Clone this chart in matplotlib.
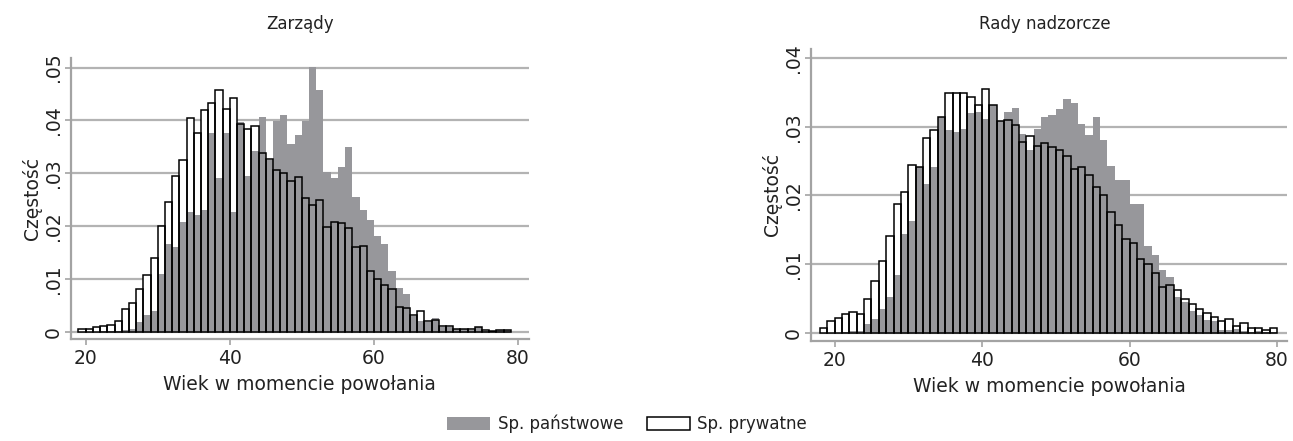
import matplotlib
matplotlib.use("Agg")
import matplotlib.pyplot as plt
from matplotlib.patches import Patch
import numpy as np

plt.rcParams['font.family'] = ['DejaVu Sans']

# ---- data: 1-year bins (left edges) ----
age_zarzady = np.arange(19, 79)
zarz_panstwowe = [
    0.0000, 0.0000, 0.0000, 0.0001, 0.0001, 0.0002, 0.0004, 0.0006, 0.0019, 0.0032,
    0.0040, 0.0109, 0.0166, 0.0160, 0.0208, 0.0226, 0.0222, 0.0230, 0.0377, 0.0291,
    0.0377, 0.0226, 0.0397, 0.0295, 0.0343, 0.0406, 0.0325, 0.0398, 0.0411, 0.0355,
    0.0372, 0.0398, 0.0501, 0.0458, 0.0302, 0.0291, 0.0312, 0.0350, 0.0256, 0.0230,
    0.0212, 0.0182, 0.0166, 0.0115, 0.0083, 0.0071, 0.0031, 0.0021, 0.0019, 0.0027,
    0.0010, 0.0010, 0.0005, 0.0005, 0.0004, 0.0009, 0.0002, 0.0001, 0.0003, 0.0003]
zarz_prywatne = [
    0.0006, 0.0006, 0.0009, 0.0011, 0.0013, 0.0020, 0.0044, 0.0054, 0.0081, 0.0107,
    0.0139, 0.0201, 0.0245, 0.0295, 0.0326, 0.0404, 0.0377, 0.0419, 0.0432, 0.0458,
    0.0422, 0.0442, 0.0393, 0.0384, 0.0389, 0.0339, 0.0328, 0.0307, 0.0300, 0.0285,
    0.0293, 0.0253, 0.0240, 0.0250, 0.0199, 0.0208, 0.0206, 0.0196, 0.0160, 0.0163,
    0.0115, 0.0100, 0.0089, 0.0081, 0.0047, 0.0045, 0.0033, 0.0039, 0.0020, 0.0023,
    0.0011, 0.0011, 0.0006, 0.0006, 0.0005, 0.0009, 0.0003, 0.0002, 0.0004, 0.0004]

age_rady = np.arange(18, 80)
rady_panstwowe = [
    0.0000, 0.0000, 0.0000, 0.0001, 0.0003, 0.0003, 0.0013, 0.0021, 0.0035, 0.0053,
    0.0084, 0.0144, 0.0163, 0.0241, 0.0217, 0.0242, 0.0314, 0.0295, 0.0293, 0.0296,
    0.0320, 0.0322, 0.0311, 0.0331, 0.0308, 0.0322, 0.0327, 0.0289, 0.0266, 0.0296,
    0.0314, 0.0317, 0.0326, 0.0341, 0.0334, 0.0304, 0.0288, 0.0314, 0.0281, 0.0243,
    0.0223, 0.0223, 0.0187, 0.0187, 0.0126, 0.0113, 0.0092, 0.0082, 0.0053, 0.0045,
    0.0032, 0.0026, 0.0019, 0.0017, 0.0005, 0.0005, 0.0006, 0.0003, 0.0002, 0.0003,
    0.0002, 0.0001]
rady_prywatne = [
    0.0007, 0.0018, 0.0022, 0.0027, 0.0031, 0.0028, 0.0050, 0.0076, 0.0105, 0.0141,
    0.0187, 0.0205, 0.0245, 0.0242, 0.0283, 0.0295, 0.0314, 0.0349, 0.0349, 0.0349,
    0.0343, 0.0332, 0.0355, 0.0332, 0.0309, 0.0310, 0.0302, 0.0278, 0.0286, 0.0272,
    0.0277, 0.0271, 0.0266, 0.0258, 0.0238, 0.0242, 0.0230, 0.0212, 0.0201, 0.0176,
    0.0157, 0.0137, 0.0131, 0.0107, 0.0101, 0.0088, 0.0067, 0.0070, 0.0062, 0.0050,
    0.0042, 0.0035, 0.0029, 0.0023, 0.0018, 0.0020, 0.0010, 0.0015, 0.0008, 0.0008,
    0.0004, 0.0007]

titles = ["Zarządy", "Rady nadzorcze"]
x_ticks = [20, 40, 60, 80]
y_ticks_z = [0, 0.01, 0.02, 0.03, 0.04, 0.05]
y_ticks_r = [0, 0.01, 0.02, 0.03, 0.04]
legend_labels = ["Sp. państwowe", "Sp. prywatne"]

GRAY = "#97979b"
GRID = "#b3b3b3"
AXC = "#a3a3a3"
TXT = "#222222"

W, H = 1293, 441
fig = plt.figure(figsize=(W / 100, H / 100), dpi=100)

def frac(x0, x1, ytop, ybot):
    return [x0 / W, 1 - ybot / H, (x1 - x0) / W, (ybot - ytop) / H]

ax1 = fig.add_axes(frac(71, 528.5, 58, 339))
ax2 = fig.add_axes(frac(811, 1287, 49, 341))

def draw(ax, ages, panst, pryw, yticks, xlim, ylim):
    ax.bar(ages, pryw, width=1, align="edge", color="white", linewidth=0, zorder=2)
    ax.bar(ages, panst, width=1, align="edge", color=GRAY, linewidth=0, zorder=3)
    ax.bar(ages, pryw, width=1, align="edge", facecolor="none", edgecolor="black",
           linewidth=1.1, zorder=4)
    ax.set_xlim(*xlim)
    ax.set_ylim(*ylim)
    ax.set_xticks(x_ticks)
    ax.set_xticklabels([str(t) for t in x_ticks])
    ax.set_yticks(yticks)
    ax.set_yticklabels(["0"] + [("%.2f" % t)[1:] for t in yticks[1:]],
                       rotation=90, va="center")
    ax.yaxis.grid(True, color=GRID, linewidth=1.6, zorder=1)
    ax.set_axisbelow(True)
    for s in ["top", "right"]:
        ax.spines[s].set_visible(False)
    for s in ["left", "bottom"]:
        ax.spines[s].set_color(AXC)
        ax.spines[s].set_linewidth(1.6)
    ax.tick_params(axis="both", direction="out", length=4, width=1.2,
                   color=AXC, labelcolor=TXT, labelsize=13.5)
    ax.tick_params(axis="x", pad=3)
    ax.tick_params(axis="y", pad=2)
    ax.set_xlabel("Wiek w momencie powołania", fontsize=13.5, color=TXT, labelpad=5)
    ax.set_ylabel("Częstość", fontsize=13.5, color=TXT, labelpad=1)

draw(ax1, age_zarzady, zarz_panstwowe, zarz_prywatne, y_ticks_z,
     (17.96, 81.45), (-0.00132, 0.0518))
draw(ax2, age_rady, rady_panstwowe, rady_prywatne, y_ticks_r,
     (16.8, 81.34), (-0.00116, 0.0413))

fig.text(300 / W, 1 - 24 / H, titles[0], ha="center", va="center", fontsize=12, color=TXT)
fig.text(1045 / W, 1 - 24 / H, titles[1], ha="center", va="center", fontsize=12, color=TXT)

handles = [Patch(facecolor=GRAY, edgecolor=GRAY, linewidth=0),
           Patch(facecolor="white", edgecolor="black", linewidth=1.1)]
fig.legend(handles, legend_labels, loc="center", bbox_to_anchor=(627 / W, 1 - 424 / H),
           ncol=2, frameon=False, fontsize=12, handlelength=2.6, handleheight=0.75,
           handletextpad=0.45, columnspacing=1.4, labelcolor=TXT)

fig.savefig("out.png", dpi=100)
